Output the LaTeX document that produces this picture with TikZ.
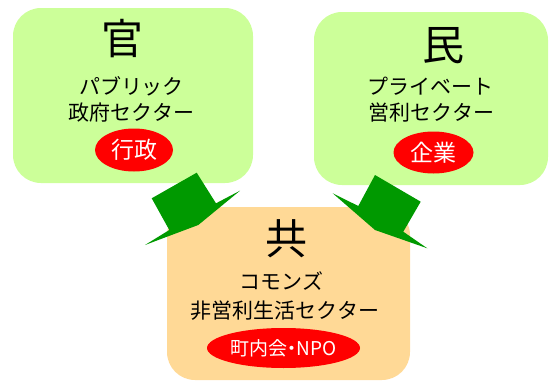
\documentclass[tikz,border=0pt]{standalone}
\usepackage{fontspec}
\newfontfamily\jp{Noto Sans CJK JP}
\newfontfamily\jpp[RawFeature=+palt]{Noto Sans CJK JP}
\usetikzlibrary{shapes.geometric}
\definecolor{boxgreen}{HTML}{CCFF99}
\definecolor{boxtan}{HTML}{FFD996}
\definecolor{arrowgreen}{HTML}{009900}
\definecolor{badgered}{HTML}{FF0000}
\begin{document}
\begin{tikzpicture}[x=1pt,y=-1pt,
  sector/.style={rounded corners=28pt, inner sep=0pt, draw=none},
  bigchar/.style={font=\jp\fontsize{42}{42}\selectfont, inner sep=0pt},
  textline/.style={font=\jp\fontsize{21}{21}\selectfont, inner sep=0pt},
  badge/.style={ellipse, fill=badgered, text=white, inner sep=0pt,
    font=\jp\fontsize{23}{23}\selectfont},
  blockarrow/.style={fill=arrowgreen, draw=none}]
\useasboundingbox (0,0) rectangle (550,383);
% sector boxes
\node[sector, fill=boxgreen, minimum width=240pt, minimum height=175pt] (kan) at (133,95.5) {};
\node[sector, fill=boxgreen, minimum width=234pt, minimum height=173pt] (min) at (431,98.5) {};
\node[sector, fill=boxtan, minimum width=243pt, minimum height=173pt] (kyo) at (288.5,293.5) {};
% public
\node[bigchar] (kanchar) at (122,39) {官};
\node[textline] (kan1) at (131.5,86.5) {パブリック};
\node[textline] (kan2) at (131.5,112.5) {政府セクター};
\node[badge, minimum width=78pt, minimum height=43pt] (kanbadge) at (134,150) {行政};
% private
\node[bigchar] (minchar) at (443,46) {民};
\node[textline] (min1) at (430,86.5) {プライベート};
\node[textline] (min2) at (431.5,112.5) {営利セクター};
\node[badge, minimum width=80pt, minimum height=42pt] (minbadge) at (433.5,152.5) {企業};
% commons
\node[bigchar] (kyochar) at (286,239) {共};
\node[textline] (kyo1) at (281.5,281.5) {コモンズ};
\node[textline] (kyo2) at (285,311) {非営利生活セクター};
\node[badge, minimum width=153pt, minimum height=40pt, font=\jpp\fontsize{19}{19}\selectfont] (kyobadge) at (283.5,348) {町内会・NPO};
% block arrows
\coordinate (la1) at (151.7,198.3);
\coordinate (la2) at (196.7,172.7);
\coordinate (la3) at (216,203.3);
\coordinate (la4) at (240,190.7);
\coordinate (la5) at (198.3,225);
\coordinate (la6) at (145,245);
\coordinate (la7) at (169.3,230);
\fill[blockarrow] (la1) -- (la2) -- (la3) -- (la4) -- (la5) -- (la6) -- (la7) -- cycle;
\coordinate (ra1) at (375,175);
\coordinate (ra2) at (420.7,201.7);
\coordinate (ra3) at (403.3,231.7);
\coordinate (ra4) at (427.3,248.3);
\coordinate (ra5) at (375,230);
\coordinate (ra6) at (332.7,193.3);
\coordinate (ra7) at (358.3,206);
\fill[blockarrow] (ra1) -- (ra2) -- (ra3) -- (ra4) -- (ra5) -- (ra6) -- (ra7) -- cycle;
\end{tikzpicture}
\end{document}
